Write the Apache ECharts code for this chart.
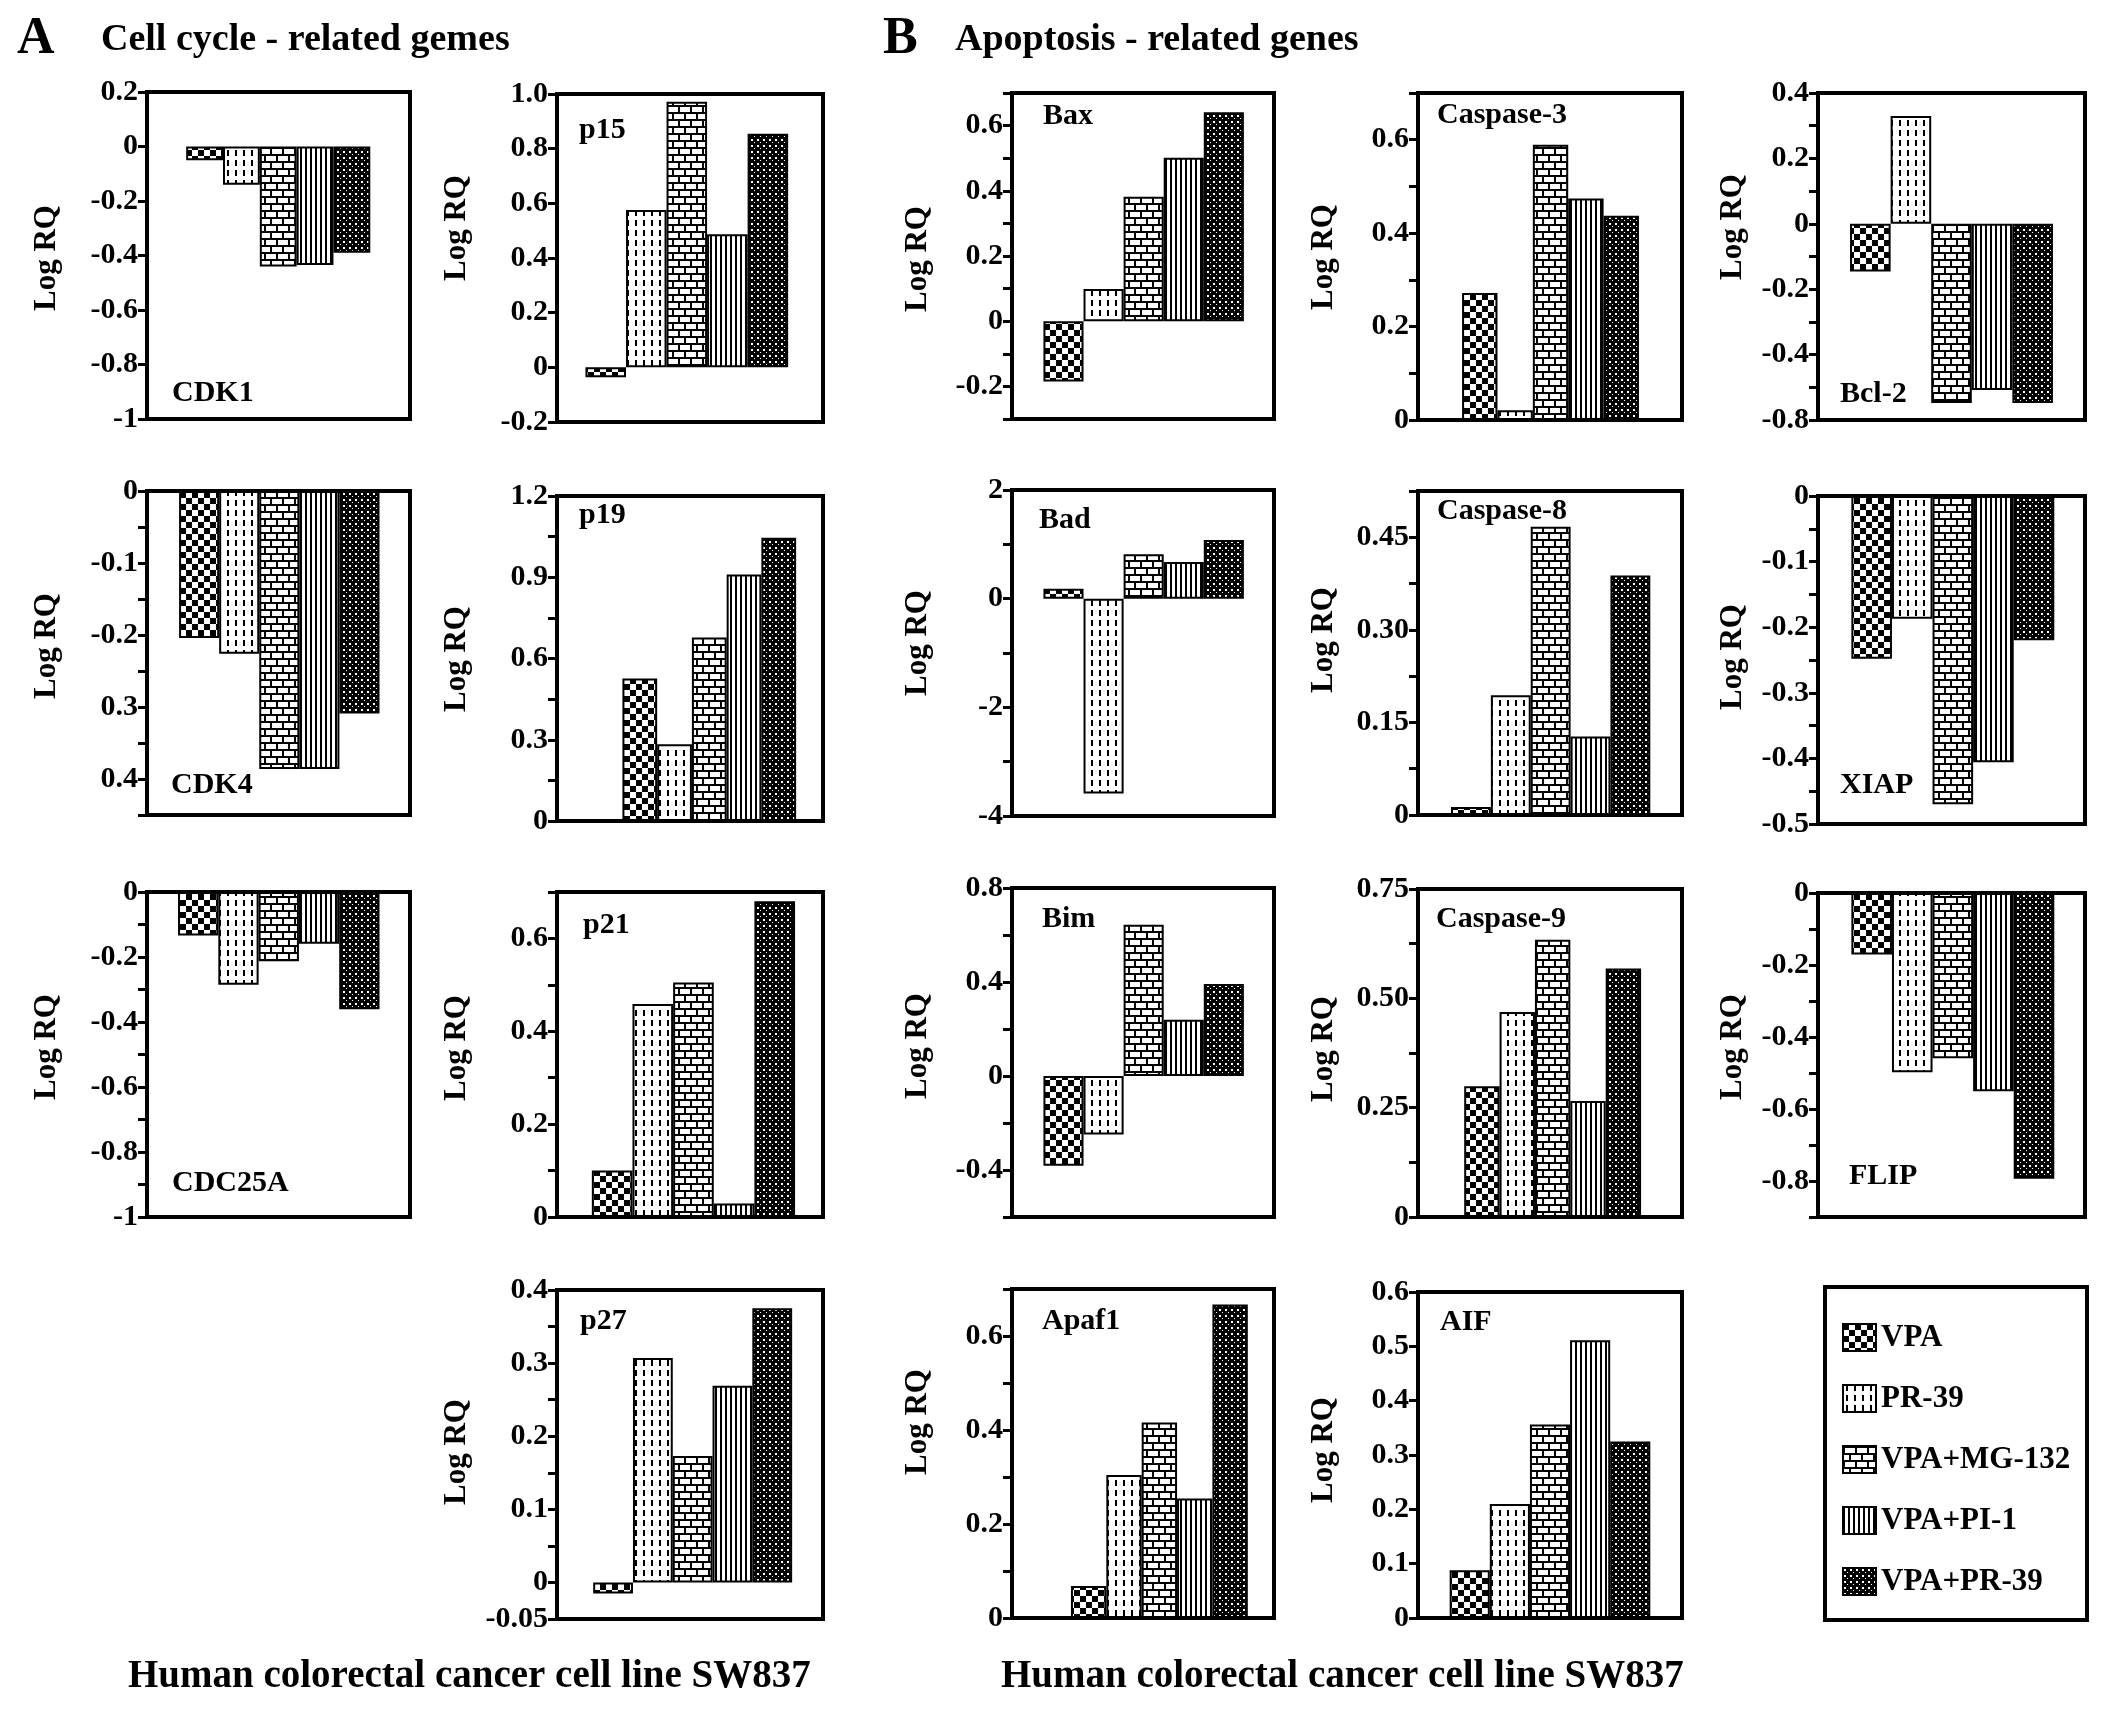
<!DOCTYPE html>
<html>
<head>
<meta charset="utf-8">
<script src="https://cdn.jsdelivr.net/npm/echarts@6/dist/echarts.min.js"></script>
<style>
html,body{margin:0;padding:0;background:#fff;}
#c{width:2102px;height:1710px;}
</style>
</head>
<body>
<div id="c"></div>
<script>
// ---------- DATA ----------
const treatments = ['VPA', 'PR-39', 'VPA+MG-132', 'VPA+PI-1', 'VPA+PR-39'];

// Log RQ values, order = treatments
const cdk1   = [-0.05, -0.14, -0.44, -0.435, -0.39];
const cdk4   = [-0.204, -0.226, -0.386, -0.386, -0.309];
const cdc25a = [-0.134, -0.285, -0.213, -0.159, -0.361];
const p15    = [-0.036, 0.576, 0.972, 0.487, 0.855];
const p19    = [0.526, 0.283, 0.678, 0.910, 1.046];
const p21    = [0.100, 0.459, 0.505, 0.029, 0.680];
const p27    = [-0.015, 0.307, 0.173, 0.269, 0.375];
const bax    = [-0.185, 0.099, 0.382, 0.501, 0.641];
const bad    = [0.184, -3.587, 0.817, 0.676, 1.081];
const bim    = [-0.382, -0.249, 0.644, 0.239, 0.392];
const apaf1  = [0.068, 0.304, 0.416, 0.254, 0.667];
const casp3  = [0.272, 0.021, 0.589, 0.474, 0.437];
const casp8  = [0.013, 0.194, 0.467, 0.127, 0.388];
const casp9  = [0.299, 0.469, 0.634, 0.265, 0.568];
const aif    = [0.088, 0.210, 0.356, 0.511, 0.325];
const bcl2   = [-0.146, 0.330, -0.548, -0.508, -0.548];
const xiap   = [-0.248, -0.187, -0.470, -0.406, -0.220];
const flip   = [-0.171, -0.498, -0.459, -0.551, -0.794];

// axis ranges: [min, max, tick interval]
const cdk1Axis   = [-1, 0.2, 0.2];
const cdk4Axis   = [-0.45, 0, 0.05];
const cdc25aAxis = [-1, 0, 0.1];
const p15Axis    = [-0.2, 1, 0.2];
const p19Axis    = [0, 1.2, 0.15];
const p21Axis    = [0, 0.7, 0.1];
const p27Axis    = [-0.05, 0.4, 0.05];
const baxAxis    = [-0.3, 0.7, 0.1];
const badAxis    = [-4, 2, 1];
const bimAxis    = [-0.6, 0.8, 0.2];
const apaf1Axis  = [0, 0.7, 0.1];
const casp3Axis  = [0, 0.7, 0.1];
const casp8Axis  = [0, 0.525, 0.075];
const casp9Axis  = [0, 0.75, 0.125];
const aifAxis    = [0, 0.6, 0.1];
const bcl2Axis   = [-0.6, 0.4, 0.1];
const xiapAxis   = [-0.5, 0, 0.05];
const flipAxis   = [-0.9, 0, 0.1];

// tick labels as printed: [value, text]
const cdk1Ticks   = [[0.2,'0.2'],[0,'0'],[-0.2,'-0.2'],[-0.4,'-0.4'],[-0.6,'-0.6'],[-0.8,'-0.8'],[-1,'-1']];
const cdk4Ticks   = [[0,'0'],[-0.1,'-0.1'],[-0.2,'-0.2'],[-0.3,'0.3'],[-0.4,'0.4']];
const cdc25aTicks = [[0,'0'],[-0.2,'-0.2'],[-0.4,'-0.4'],[-0.6,'-0.6'],[-0.8,'-0.8'],[-1,'-1']];
const p15Ticks    = [[1,'1.0'],[0.8,'0.8'],[0.6,'0.6'],[0.4,'0.4'],[0.2,'0.2'],[0,'0'],[-0.2,'-0.2']];
const p19Ticks    = [[1.2,'1.2'],[0.9,'0.9'],[0.6,'0.6'],[0.3,'0.3'],[0,'0']];
const p21Ticks    = [[0.6,'0.6'],[0.4,'0.4'],[0.2,'0.2'],[0,'0']];
const p27Ticks    = [[0.4,'0.4'],[0.3,'0.3'],[0.2,'0.2'],[0.1,'0.1'],[0,'0'],[-0.05,'-0.05']];
const baxTicks    = [[0.6,'0.6'],[0.4,'0.4'],[0.2,'0.2'],[0,'0'],[-0.2,'-0.2']];
const badTicks    = [[2,'2'],[0,'0'],[-2,'-2'],[-4,'-4']];
const bimTicks    = [[0.8,'0.8'],[0.4,'0.4'],[0,'0'],[-0.4,'-0.4']];
const apaf1Ticks  = [[0.6,'0.6'],[0.4,'0.4'],[0.2,'0.2'],[0,'0']];
const casp3Ticks  = [[0.6,'0.6'],[0.4,'0.4'],[0.2,'0.2'],[0,'0']];
const casp8Ticks  = [[0.45,'0.45'],[0.3,'0.30'],[0.15,'0.15'],[0,'0']];
const casp9Ticks  = [[0.75,'0.75'],[0.5,'0.50'],[0.25,'0.25'],[0,'0']];
const aifTicks    = [[0.6,'0.6'],[0.5,'0.5'],[0.4,'0.4'],[0.3,'0.3'],[0.2,'0.2'],[0.1,'0.1'],[0,'0']];
const bcl2Ticks   = [[0.4,'0.4'],[0.2,'0.2'],[0,'0'],[-0.2,'-0.2'],[-0.4,'-0.4'],[-0.6,'-0.8']];
const xiapTicks   = [[0,'0'],[-0.1,'-0.1'],[-0.2,'-0.2'],[-0.3,'-0.3'],[-0.4,'-0.4'],[-0.5,'-0.5']];
const flipTicks   = [[0,'0'],[-0.2,'-0.2'],[-0.4,'-0.4'],[-0.6,'-0.6'],[-0.8,'-0.8']];

const panels = [
  {name:'CDK1',      values:cdk1,   axis:cdk1Axis,   ticks:cdk1Ticks},
  {name:'p15',       values:p15,    axis:p15Axis,    ticks:p15Ticks},
  {name:'CDK4',      values:cdk4,   axis:cdk4Axis,   ticks:cdk4Ticks},
  {name:'p19',       values:p19,    axis:p19Axis,    ticks:p19Ticks},
  {name:'CDC25A',    values:cdc25a, axis:cdc25aAxis, ticks:cdc25aTicks},
  {name:'p21',       values:p21,    axis:p21Axis,    ticks:p21Ticks},
  {name:'p27',       values:p27,    axis:p27Axis,    ticks:p27Ticks},
  {name:'Bax',       values:bax,    axis:baxAxis,    ticks:baxTicks},
  {name:'Bad',       values:bad,    axis:badAxis,    ticks:badTicks},
  {name:'Bim',       values:bim,    axis:bimAxis,    ticks:bimTicks},
  {name:'Apaf1',     values:apaf1,  axis:apaf1Axis,  ticks:apaf1Ticks},
  {name:'Caspase-3', values:casp3,  axis:casp3Axis,  ticks:casp3Ticks},
  {name:'Caspase-8', values:casp8,  axis:casp8Axis,  ticks:casp8Ticks},
  {name:'Caspase-9', values:casp9,  axis:casp9Axis,  ticks:casp9Ticks},
  {name:'AIF',       values:aif,    axis:aifAxis,    ticks:aifTicks},
  {name:'Bcl-2',     values:bcl2,   axis:bcl2Axis,   ticks:bcl2Ticks},
  {name:'XIAP',      values:xiap,   axis:xiapAxis,   ticks:xiapTicks},
  {name:'FLIP',      values:flip,   axis:flipAxis,   ticks:flipTicks}
];

// ---------- LAYOUT (pixels) ----------
// frame: [left, top, width, height]; bars: [left fraction, right fraction]; label: [x, y]; ylab: [cx, cy]
const layout = {
  'CDK1':      {frame:[147,92,263,327],   bars:[0.149,0.151], label:[172,393],  ylab:[47,258]},
  'p15':       {frame:[557,94,266,328],   bars:[0.107,0.131], label:[579,130],  ylab:[457,228]},
  'CDK4':      {frame:[147,491,263,324],  bars:[0.122,0.116], label:[171,785],  ylab:[47,646]},
  'p19':       {frame:[557,496,266,325],  bars:[0.246,0.101], label:[579,515],  ylab:[457,659]},
  'CDC25A':    {frame:[147,892,263,325],  bars:[0.118,0.116], label:[172,1183], ylab:[47,1047]},
  'p21':       {frame:[557,892,266,325],  bars:[0.131,0.105], label:[583,925],  ylab:[457,1048]},
  'p27':       {frame:[557,1290,266,329], bars:[0.136,0.116], label:[580,1321], ylab:[457,1452]},
  'Bax':       {frame:[1012,93,262,326],  bars:[0.12,0.115],  label:[1043,116], ylab:[918,259]},
  'Bad':       {frame:[1012,490,262,326], bars:[0.12,0.115],  label:[1039,520], ylab:[918,643]},
  'Bim':       {frame:[1012,888,262,329], bars:[0.12,0.115],  label:[1042,919], ylab:[918,1046]},
  'Apaf1':     {frame:[1012,1289,262,329],bars:[0.225,0.10],  label:[1042,1321],ylab:[918,1422]},
  'Caspase-3': {frame:[1418,93,264,327],  bars:[0.167,0.163], label:[1437,115], ylab:[1324,257]},
  'Caspase-8': {frame:[1418,491,264,324], bars:[0.125,0.12],  label:[1437,511], ylab:[1324,640]},
  'Caspase-9': {frame:[1418,889,264,328], bars:[0.175,0.155], label:[1436,919], ylab:[1324,1049]},
  'AIF':       {frame:[1418,1292,264,326],bars:[0.12,0.12],   label:[1440,1322],ylab:[1324,1450]},
  'Bcl-2':     {frame:[1818,93,267,327],  bars:[0.12,0.12],   label:[1840,394], ylab:[1733,227]},
  'XIAP':      {frame:[1818,496,267,328], bars:[0.125,0.115], label:[1840,785], ylab:[1733,657]},
  'FLIP':      {frame:[1818,893,267,324], bars:[0.125,0.115], label:[1849,1176],ylab:[1733,1047]}
};

// ---------- PATTERNS ----------
function mk(w, h, draw) {
  const c = document.createElement('canvas');
  c.width = w; c.height = h;
  const g = c.getContext('2d');
  g.fillStyle = '#fff'; g.fillRect(0, 0, w, h);
  g.fillStyle = '#000';
  draw(g);
  return {image: c, repeat: 'repeat'};
}
const patterns = [
  mk(12, 12, g => { g.fillRect(0,0,6,6); g.fillRect(6,6,6,6); }),                       // VPA checker
  mk(8, 10, g => { g.fillRect(3,0,2,6); }),                                               // PR-39 dashed
  mk(12, 14, g => { g.fillRect(0,0,12,2); g.fillRect(0,7,12,2); g.fillRect(0,0,2,7); g.fillRect(6,7,2,7); }), // brick
  mk(5, 4, g => { g.fillRect(0,0,2,4); }),                                                // vertical lines
  mk(6, 6, g => { g.fillRect(0,0,6,6); g.fillStyle='#fff'; g.fillRect(1,1,2,2); g.fillRect(4,4,1,1); }) // dark dotted
];

// ---------- OPTION ----------
const FONT = 'Liberation Serif';
const grid = [], xAxis = [], yAxis = [], series = [], graphic = [];

panels.forEach((p, i) => {
  const L = layout[p.name];
  const [fl, ft, fw, fh] = L.frame;
  const [bl, br] = L.bars;
  const gf = 2 * i, gb = 2 * i + 1;
  grid.push({left: fl, top: ft, width: fw, height: fh, show: true, borderColor: '#000', borderWidth: 4, backgroundColor: 'transparent'});
  grid.push({left: fl + bl * fw, top: ft, width: fw * (1 - bl - br), height: fh, show: false});
  xAxis.push({gridIndex: gf, type: 'value', min: 0, max: 1, show: false});
  xAxis.push({gridIndex: gb, type: 'category', data: treatments, show: false, boundaryGap: true});
  const ticks = p.ticks;
  yAxis.push({
    gridIndex: gf, type: 'value', min: p.axis[0], max: p.axis[1], interval: p.axis[2],
    axisLine: {show: true, onZero: false, lineStyle: {color: '#000', width: 4}},
    axisTick: {show: true, inside: false, length: 9, lineStyle: {color: '#000', width: 3}},
    axisLabel: {
      show: true, margin: 9, color: '#000', fontFamily: FONT, fontWeight: 'bold', fontSize: 30,
      showMinLabel: true, showMaxLabel: true,
      formatter: v => { for (const [tv, tl] of ticks) { if (Math.abs(tv - v) < 1e-6) return tl; } return ''; }
    },
    splitLine: {show: false}
  });
  yAxis.push({gridIndex: gb, type: 'value', min: p.axis[0], max: p.axis[1], show: false});
  treatments.forEach((t, j) => {
    series.push({
      type: 'bar', name: t, xAxisIndex: gb, yAxisIndex: gb, stack: 'panel' + i,
      barCategoryGap: '0%', silent: true,
      data: p.values.map((v, k) => (k === j ? v : '-')),
      itemStyle: {color: patterns[j], borderColor: '#000', borderWidth: 2}
    });
  });
  graphic.push({type: 'text', x: L.label[0], y: L.label[1], silent: true,
    style: {text: p.name, fill: '#000', font: 'bold 30px "' + FONT + '"', align: 'left', verticalAlign: 'middle', textAlign: 'left', textVerticalAlign: 'middle'}});
  graphic.push({type: 'text', x: L.ylab[0], y: L.ylab[1], rotation: Math.PI / 2, silent: true,
    style: {text: 'Log RQ', fill: '#000', font: 'bold 31px "' + FONT + '"', align: 'center', verticalAlign: 'middle', textAlign: 'center', textVerticalAlign: 'middle'}});
});

function txt(s, x, y, size) {
  return {type: 'text', x: x, y: y, silent: true,
    style: {text: s, fill: '#000', font: 'bold ' + size + 'px "' + FONT + '"', align: 'left', verticalAlign: 'middle', textAlign: 'left', textVerticalAlign: 'middle'}};
}
graphic.push(txt('A', 17, 40, 52));
graphic.push(txt('Cell cycle - related gemes', 101, 40, 38));
graphic.push(txt('B', 883, 40, 52));
graphic.push(txt('Apoptosis - related genes', 955, 40, 38));
graphic.push(txt('Human colorectal cancer cell line SW837', 128, 1677, 39));
graphic.push(txt('Human colorectal cancer cell line SW837', 1001, 1677, 39));
graphic.push({type: 'rect', silent: true, shape: {x: 1825, y: 1287, width: 262, height: 333},
  style: {fill: 'none', stroke: '#000', lineWidth: 4}});

const option = {
  backgroundColor: '#fff',
  animation: false,
  grid, xAxis, yAxis, series, graphic,
  legend: {
    data: treatments, orient: 'vertical', left: 1842, top: 1322, padding: 0,
    icon: 'rect', itemWidth: 33, itemHeight: 27, itemGap: 30,
    selectedMode: false,
    textStyle: {color: '#000', fontFamily: FONT, fontWeight: 'bold', fontSize: 31}
  }
};

const chart = echarts.init(document.getElementById('c'), null, {renderer: 'canvas'});
chart.setOption(option);
</script>
</body>
</html>
